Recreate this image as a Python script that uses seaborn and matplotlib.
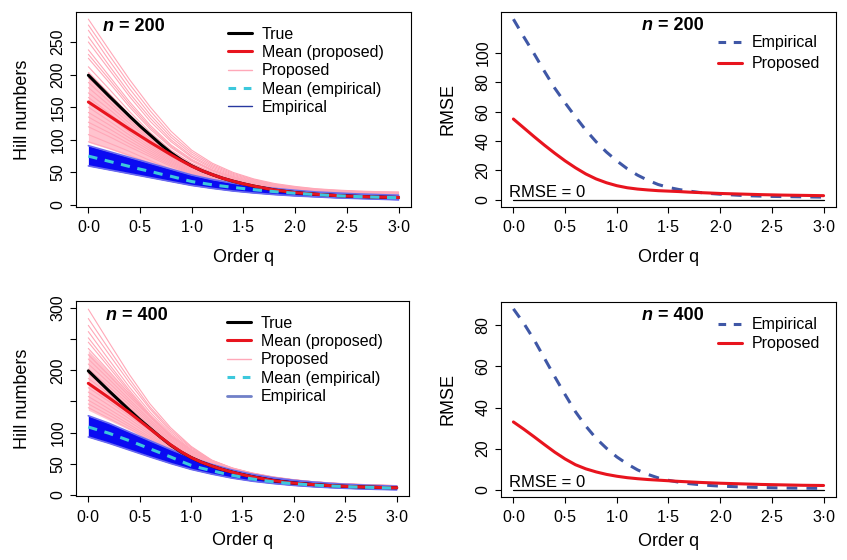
import pandas as pd
import seaborn as sns
import matplotlib.pyplot as plt
from matplotlib.lines import Line2D

# ---- values ----
# main curves on a 0.1 grid of order q, simulation runs / bands on a 0.2 grid
q_fine = [round(0.1 * i, 1) for i in range(31)]
q = [0.0, 0.2, 0.4, 0.6, 0.8, 1.0, 1.2, 1.4, 1.6, 1.8, 2.0, 2.2, 2.4, 2.6, 2.8, 3.0]

true_hill = [199, 183, 167, 151.5, 136, 121, 107, 93, 80, 69, 60, 52.5, 46.5, 41, 36.5, 32.5,
             29, 26, 23, 21, 19, 17.7, 16.5, 15.5, 14.5, 13.8, 13.2, 12.7, 12.2, 11.8, 11.5]

# n = 200
mean_prop_200 = [158, 147.5, 137, 126.5, 116, 106, 96, 86.5, 77, 68, 59.5, 52.5, 46.5, 41, 36.5,
                 32.5, 29, 26, 23, 21, 19, 17.7, 16.5, 15.5, 14.5, 13.8, 13.2, 12.7, 12.2, 11.8, 11.5]
mean_emp_200 = [75, 71, 67, 63, 59, 55, 51.5, 47.5, 44, 40, 36, 33.5, 31, 29, 27, 25.2,
                23.5, 22, 20.5, 19.2, 18, 17, 16, 15.1, 14.3, 13.6, 13, 12.5, 12, 11.6, 11.2]
emp_low_200 = [60, 54, 48, 42, 36, 30, 25.5, 21.5, 18.5, 16, 14, 12.5, 11, 10, 9, 8]
emp_high_200 = [91, 82, 73, 64, 55, 46, 39, 33.5, 29, 25.5, 22.5, 20, 18.5, 17, 16, 15]
prop_low_200 = [96, 86, 75, 63, 51.5, 41.5, 33.5, 27.5, 23, 19.8, 17.4, 15.6, 14.3, 13.3, 12.6, 12]
prop_high_200 = [205, 172, 139, 108, 82, 63, 49, 39, 31.5, 26.3, 22.7, 20.2, 18.3, 16.8, 15.8, 15.2]
prop_runs_200 = [
    [285, 238, 192, 150, 113, 84, 64, 50, 40, 33, 28.5, 25, 23, 21.5, 20.5, 20],
    [276, 230, 185, 144, 108, 81, 62, 48.5, 39, 32, 27.7, 24.5, 22.5, 21, 20, 19.5],
    [268, 222, 178, 138, 104, 78, 60, 47, 38, 31.5, 27, 24, 22, 20.5, 19.5, 19],
    [258, 214, 171, 133, 100, 75, 58, 45.5, 37, 30.7, 26.5, 23.5, 21.5, 20, 19, 18.5],
    [250, 208, 166, 128, 97, 73, 56, 44, 36, 30, 26, 23, 21, 19.5, 18.5, 18],
    [238, 198, 158, 122, 92, 70, 54, 43, 35, 29, 25, 22, 20, 18.5, 17.5, 17],
    [231, 193, 154, 119, 90, 68.5, 53, 42, 34.2, 28.5, 24.5, 21.7, 19.7, 18.2, 17.2, 16.7],
    [225, 188, 150, 116, 88, 67, 52, 41, 33.5, 28, 24, 21.5, 19.5, 18, 17, 16.5],
    [212, 178, 143, 111, 84, 64, 50, 40, 32.5, 27, 23.5, 21, 19, 17.5, 16.5, 16],
    [203, 171, 138, 107, 81, 62.5, 49, 39, 31.7, 26.5, 23, 20.5, 18.5, 17, 16, 15.5],
    [195, 165, 134, 104, 79, 61, 48, 38, 31, 26, 22.5, 20, 18, 16.5, 15.5, 15],
    [188, 159, 129.5, 101, 77, 59.5, 46.7, 37.2, 30.5, 25.5, 22, 19.5, 17.6, 16.2, 15.2, 14.7],
    [180, 153, 125, 98, 75, 58, 45.5, 36.5, 30, 25, 21.5, 19, 17.3, 16, 15, 14.5],
    [172, 147, 120.5, 95, 73, 56.5, 44.5, 35.7, 29.2, 24.5, 21, 18.6, 17, 15.7, 14.7, 14.2],
    [165, 141, 116, 92, 71, 55, 43.5, 35, 28.5, 24, 20.5, 18.3, 16.7, 15.5, 14.5, 14],
    [157, 135, 111.5, 89, 69, 53.5, 42.5, 34.2, 28, 23.5, 20.2, 18, 16.4, 15.2, 14.2, 13.7],
    [150, 129, 107, 86, 67, 52, 41.5, 33.5, 27.5, 23, 20, 17.8, 16.2, 15, 14, 13.5],
    [142, 123, 102.5, 83, 65, 50.7, 40.5, 32.7, 27, 22.6, 19.6, 17.5, 15.9, 14.8, 13.9, 13.3],
    [135, 117, 98, 80, 63, 49.5, 39.5, 32, 26.5, 22.3, 19.3, 17.2, 15.7, 14.6, 13.8, 13.2],
    [127, 111, 93.5, 77, 61, 48.2, 38.5, 31.2, 26, 21.9, 19, 17, 15.5, 14.4, 13.6, 13],
    [120, 105, 89, 74, 59, 47, 37.5, 30.5, 25.5, 21.5, 18.7, 16.7, 15.3, 14.2, 13.4, 12.8],
    [108, 95, 82, 68, 55, 44, 35.5, 29, 24.5, 20.8, 18.2, 16.3, 15, 14, 13.2, 12.6],
    [97, 87, 76, 64, 52, 42, 34, 28, 23.5, 20.2, 17.8, 16, 14.7, 13.7, 13, 12.4],
]
rmse_emp_200 = [123, 111, 99.5, 87.5, 76, 66, 56.5, 47.5, 39.5, 32.5, 26.5, 21.2, 16.8, 13.3, 10.4, 8.4,
                7, 5.9, 5, 4.3, 3.8, 3.4, 3.0, 2.7, 2.5, 2.3, 2.2, 2.1, 2.0, 1.9, 1.8]
rmse_prop_200 = [55, 49, 43, 37.2, 31.7, 26.5, 21.8, 17.6, 14.2, 11.6, 9.6, 8.2, 7.3, 6.7, 6.2, 5.9,
                 5.6, 5.2, 4.9, 4.6, 4.3, 4.1, 3.9, 3.7, 3.5, 3.35, 3.2, 3.1, 3.0, 2.9, 2.8]

# n = 400
mean_prop_400 = [179, 167.5, 156, 144, 132, 119, 106, 93, 80.5, 69.5, 60, 52.5, 46.5, 41, 36.5,
                 32.5, 29, 26, 23, 21, 19, 17.7, 16.5, 15.5, 14.5, 13.8, 13.2, 12.7, 12.2, 11.8, 11.5]
mean_emp_400 = [109, 104, 99, 93, 87, 80.5, 74, 67.5, 61, 54, 47.5, 43, 39, 35, 31.5, 28.3,
                25.5, 23.2, 21, 19.4, 18, 16.8, 15.7, 14.8, 14, 13.4, 12.8, 12.3, 11.8, 11.4, 11]
emp_low_400 = [93, 83, 72, 61, 50.5, 41, 33.5, 27, 22, 18.3, 15.3, 13, 11.3, 10, 9, 8.3]
emp_high_400 = [127, 115, 101, 87, 73, 60, 49, 40, 33, 27.5, 23.5, 20.5, 18, 16.3, 15, 14]
prop_low_400 = [136, 120, 104, 87, 71, 57, 46, 37, 30.5, 25.5, 21.5, 18.5, 16.3, 14.6, 13.3, 12.3]
prop_high_400 = [232, 198, 163, 129, 98, 74, 57, 45, 36.5, 30, 25.5, 22, 19.5, 17.6, 16.3, 15.3]
prop_runs_400 = [
    [298, 245, 193, 146, 108, 78, 56, 43, 34.5, 28.5, 24, 21, 18.8, 17.2, 16, 15],
    [283, 234, 186, 141, 105, 76.5, 55.5, 42.7, 34.2, 28.2, 23.9, 20.9, 18.7, 17.1, 15.9, 14.9],
    [272, 226, 180, 138, 102, 75, 55, 42.5, 34, 28, 23.8, 20.8, 18.6, 17, 15.8, 14.8],
    [262, 217, 173, 133, 99, 73, 54, 42, 33.5, 27.8, 23.6, 20.6, 18.4, 16.8, 15.6, 14.6],
    [252, 210, 168, 129, 96, 71, 53, 41.5, 33, 27.5, 23.4, 20.4, 18.2, 16.6, 15.4, 14.5],
    [245, 205, 165, 127, 95, 71, 53.5, 42, 33.5, 27.8, 23.6, 20.6, 18.3, 16.7, 15.5, 14.5],
    [235, 199, 162, 126, 95, 71.5, 54, 42.5, 34.2, 28.4, 24, 20.8, 18.5, 16.8, 15.5, 14.5],
    [225, 192, 158, 125, 95, 72, 55, 43, 35, 29, 24.5, 21, 18.6, 16.8, 15.5, 14.5],
    [218, 186, 153, 121, 92.5, 70.5, 54, 42.5, 34.5, 28.5, 24.1, 20.7, 18.4, 16.6, 15.3, 14.4],
    [210, 180, 149, 118, 90, 69, 53, 42, 34, 28, 23.8, 20.5, 18.2, 16.5, 15.2, 14.3],
    [202, 174, 144.5, 115, 88, 67.5, 52, 41.2, 33.5, 27.5, 23.4, 20.2, 18, 16.3, 15.1, 14.1],
    [195, 168, 140, 112, 86, 66, 51, 40.5, 33, 27, 23, 20, 17.8, 16.2, 15, 14],
    [187, 162, 135.5, 108.5, 83.5, 64.5, 50, 39.7, 32.2, 26.5, 22.6, 19.7, 17.6, 16, 14.8, 13.9],
    [180, 156, 131, 105, 81, 63, 49, 39, 31.5, 26, 22.3, 19.5, 17.4, 15.8, 14.7, 13.8],
    [172, 150, 126.5, 102, 79, 61.5, 48, 38.2, 31, 25.6, 22, 19.2, 17.2, 15.6, 14.5, 13.6],
    [165, 144, 122, 99, 77, 60, 47, 37.5, 30.5, 25.3, 21.7, 19, 17, 15.5, 14.4, 13.5],
    [158, 138, 117.5, 96, 75, 58.5, 46, 36.7, 30, 24.9, 21.3, 18.7, 16.8, 15.3, 14.2, 13.4],
    [152, 133, 113, 93, 73, 57, 45, 36, 29.5, 24.5, 21, 18.5, 16.6, 15.2, 14.1, 13.3],
    [146, 128, 109.5, 90.5, 71.5, 56, 44.2, 35.5, 29, 24.2, 20.7, 18.2, 16.4, 15, 14, 13.1],
    [140, 123, 106, 88, 70, 55, 43.5, 35, 28.5, 24, 20.5, 18, 16.2, 14.8, 13.8, 13],
]
rmse_emp_400 = [88, 81, 73, 64, 55, 46.3, 38, 31, 25, 20.2, 16, 12.6, 9.7, 7.5, 5.8, 4.6,
                3.7, 3.0, 2.5, 2.1, 1.8, 1.6, 1.4, 1.25, 1.1, 1.0, 0.9, 0.85, 0.8, 0.75, 0.7]
rmse_prop_400 = [33, 29.5, 25.8, 22, 18.3, 15, 12.2, 10.2, 8.7, 7.5, 6.6, 5.9, 5.4, 5.0, 4.7, 4.4,
                 4.1, 3.85, 3.6, 3.4, 3.2, 3.05, 2.9, 2.75, 2.6, 2.5, 2.4, 2.3, 2.2, 2.15, 2.1]

zero_q = [0, 3]
zero_rmse = [0, 0]

x_ticks = [0, 0.5, 1, 1.5, 2, 2.5, 3]
x_tick_labels = ['0·0', '0·5', '1·0', '1·5', '2·0', '2·5', '3·0']
hill_ticks_200 = [0, 50, 100, 150, 200, 250]
hill_labels_200 = ['0', '50', '100', '150', '200', '250']
hill_ticks_400 = [0, 50, 100, 150, 200, 250, 300]
hill_labels_400 = ['0', '50', '100', '', '200', '', '300']
rmse_ticks_200 = [0, 20, 40, 60, 80, 100]
rmse_ticks_400 = [0, 20, 40, 60, 80]

# colours
RED = '#E8141E'
PINK_FILL = '#FFC3CE'
PINK_LINE = '#FFA8B8'
BLUE = '#0A0AF2'
BLUE_EDGE = '#6A6AEE'
CYAN = '#3CC8DC'
RMSE_BLUE = '#3F57A6'

sns.set_theme(style="ticks")
plt.rcParams['font.family'] = ['Liberation Sans', 'DejaVu Sans']
plt.rcParams.update({
    'axes.edgecolor': 'black', 'text.color': 'black', 'axes.labelcolor': 'black',
    'xtick.color': 'black', 'ytick.color': 'black',
})


def runs_frame(runs):
    rows = [(i, qq, v) for i, vals in enumerate(runs) for qq, v in zip(q, vals)]
    return pd.DataFrame(rows, columns=['run', 'q', 'value'])


def style_axes(ax, ylim, yticks, ylabels, ylab, xlab_y):
    ax.set_xlim(-0.12, 3.12)
    ax.set_ylim(*ylim)
    ax.set_xticks(x_ticks)
    ax.set_xticklabels(x_tick_labels)
    ax.set_yticks(yticks)
    ax.set_yticklabels(ylabels, rotation=90, va='center')
    ax.tick_params(direction='out', length=4.5, width=0.8, labelsize=11.5)
    ax.tick_params(axis='x', pad=5)
    ax.tick_params(axis='y', pad=3)
    ax.set_xlabel('Order q', fontsize=13)
    ax.xaxis.set_label_coords(0.5, xlab_y)
    ax.set_ylabel(ylab, fontsize=13)
    ax.yaxis.set_label_coords(-0.134, 0.5)
    for s in ax.spines.values():
        s.set_visible(True)
        s.set_linewidth(0.8)
        s.set_color('black')


def n_label(ax, x, y, n):
    t = ax.text(x, y, 'n', transform=ax.transAxes, fontsize=13,
                fontweight='bold', fontstyle='italic', va='center', ha='left')
    ax.annotate(f' = {n}', xy=(1, 0), xycoords=t, va='bottom', ha='left',
                fontsize=13, fontweight='bold')


def hill_panel(ax, runs, p_low, p_high, e_low, e_high, m_prop, m_emp, emp_handle):
    ax.fill_between(q, p_low, p_high, color=PINK_FILL, lw=0, zorder=1)
    sns.lineplot(data=runs_frame(runs), x='q', y='value', units='run', estimator=None,
                 color=PINK_LINE, lw=0.8, ax=ax, legend=False, zorder=2)
    ax.fill_between(q, e_low, e_high, color=BLUE, lw=0, zorder=3)
    sns.lineplot(x=q, y=e_low, color=BLUE_EDGE, lw=1.2, ax=ax, zorder=3)
    sns.lineplot(x=q, y=e_high, color=BLUE_EDGE, lw=1.2, ax=ax, zorder=3)
    sns.lineplot(x=q_fine, y=true_hill, color='black', lw=2.2, ax=ax, zorder=4)
    sns.lineplot(x=q_fine, y=m_prop, color=RED, lw=2.2, ax=ax, zorder=5)
    sns.lineplot(x=q_fine, y=m_emp, color=CYAN, lw=2.2, linestyle=(0, (3, 2.5)), ax=ax, zorder=6)
    handles = [
        Line2D([], [], color='black', lw=2.2),
        Line2D([], [], color=RED, lw=2.2),
        Line2D([], [], color=PINK_LINE, lw=1.0),
        Line2D([], [], color=CYAN, lw=2.2, linestyle=(0, (2.5, 2.5))),
        emp_handle,
    ]
    labels = ['True', 'Mean (proposed)', 'Proposed', 'Mean (empirical)', 'Empirical']
    ax.legend(handles, labels, loc='upper left', bbox_to_anchor=(0.4537, 0.925),
              frameon=False, fontsize=11.5, borderpad=0, borderaxespad=0,
              handlelength=1.5, handletextpad=0.6, labelspacing=0.21)


def rmse_panel(ax, r_emp, r_prop, leg_y, leg_space):
    sns.lineplot(x=zero_q, y=zero_rmse, color='black', lw=0.9, ax=ax)
    sns.lineplot(x=q_fine, y=r_emp, color=RMSE_BLUE, lw=2.2, linestyle=(0, (3.5, 3)), ax=ax)
    sns.lineplot(x=q_fine, y=r_prop, color=RED, lw=2.2, ax=ax)
    ax.text(-0.045, 1.6, 'RMSE = 0', fontsize=12, va='baseline', ha='left')
    handles = [
        Line2D([], [], color=RMSE_BLUE, lw=2.2, linestyle=(0, (2.5, 2.5))),
        Line2D([], [], color=RED, lw=2.2),
    ]
    ax.legend(handles, ['Empirical', 'Proposed'], loc='upper left',
              bbox_to_anchor=(0.648, leg_y), frameon=False, fontsize=11.5,
              borderpad=0, borderaxespad=0, handlelength=1.5, handletextpad=0.6,
              labelspacing=leg_space)


fig = plt.figure(figsize=(8.47, 5.6), dpi=100)
ax1 = fig.add_axes([0.0897, 0.6304, 0.3955, 0.3482])
ax2 = fig.add_axes([0.5915, 0.6304, 0.3955, 0.3482])
ax3 = fig.add_axes([0.0897, 0.1134, 0.3932, 0.3490])
ax4 = fig.add_axes([0.5915, 0.1125, 0.3955, 0.3488])

hill_panel(ax1, prop_runs_200, prop_low_200, prop_high_200, emp_low_200, emp_high_200,
           mean_prop_200, mean_emp_200, Line2D([], [], color='#2838A0', lw=1.0))
style_axes(ax1, (-3, 296), hill_ticks_200, hill_labels_200, 'Hill numbers', -0.215)
n_label(ax1, 0.08, 0.928, 200)

rmse_panel(ax2, rmse_emp_200, rmse_prop_200, 0.88, 0.36)
style_axes(ax2, (-4.9, 127.9), rmse_ticks_200, [str(t) for t in rmse_ticks_200], 'RMSE', -0.215)
n_label(ax2, 0.42, 0.93, 200)

hill_panel(ax3, prop_runs_400, prop_low_400, prop_high_400, emp_low_400, emp_high_400,
           mean_prop_400, mean_emp_400, Line2D([], [], color='#7080C8', lw=2.0))
style_axes(ax3, (-2.5, 311), hill_ticks_400, hill_labels_400, 'Hill numbers', -0.184)
n_label(ax3, 0.09, 0.927, 400)

rmse_panel(ax4, rmse_emp_400, rmse_prop_400, 0.92, 0.26)
style_axes(ax4, (-3.5, 91.5), rmse_ticks_400, [str(t) for t in rmse_ticks_400], 'RMSE', -0.184)
n_label(ax4, 0.42, 0.93, 400)

fig.savefig('out.png', dpi=100)
